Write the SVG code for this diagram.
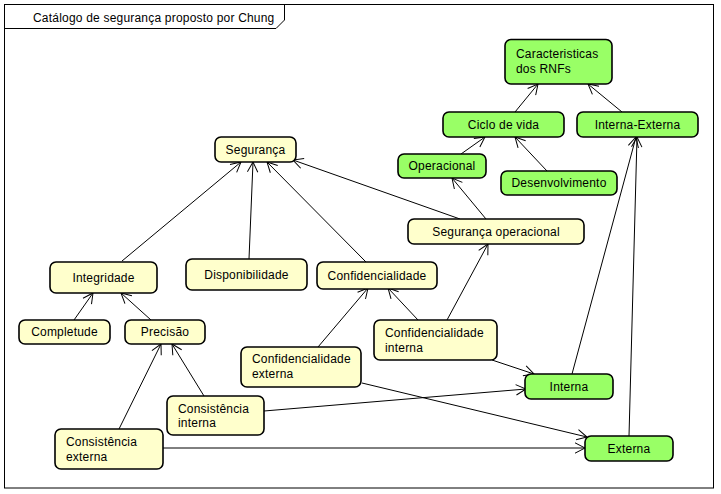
<svg xmlns="http://www.w3.org/2000/svg" width="721" height="494" viewBox="0 0 721 494">
<style>
.y{fill:#FFFFCC;stroke:#000;stroke-width:1.6}
.g{fill:#99FF66;stroke:#000;stroke-width:1.6}
text{font-family:"Liberation Sans",Arial,sans-serif;font-size:12px;letter-spacing:0.2px;fill:#000}
.c{text-anchor:middle}
#edges line,#edges path{stroke:#000;stroke-width:1;fill:none;marker-end:url(#arr)}
</style>
<defs>
<marker id="arr" markerUnits="userSpaceOnUse" viewBox="0 0 12 12" refX="11" refY="6" markerWidth="12" markerHeight="12" orient="auto">
<path d="M1,0.8 L11,6 L1,11.2" fill="none" stroke="#000" stroke-width="1"/>
</marker>
</defs>
<rect x="0" y="0" width="721" height="494" fill="#fff"/>
<g id="frame">
<rect x="4.5" y="4.5" width="709" height="483.5" fill="none" stroke="#000" stroke-width="1"/>
<path d="M4.5,28.5 L276,28.5 L284.5,20 L284.5,4.5" fill="none" stroke="#000" stroke-width="1"/>
<text x="33" y="22">Catálogo de segurança proposto por Chung</text>
</g>
<g id="edges">
<line x1="122" y1="261" x2="241" y2="162"/>
<line x1="249" y1="259" x2="253" y2="162"/>
<line x1="366" y1="262" x2="267" y2="162"/>
<line x1="460" y1="219" x2="293" y2="160"/>
<line x1="486" y1="219" x2="452" y2="178"/>
<line x1="461" y1="154" x2="485" y2="137"/>
<line x1="547" y1="171" x2="515" y2="137"/>
<line x1="515" y1="112" x2="538" y2="84"/>
<line x1="622" y1="112" x2="588" y2="84"/>
<line x1="572" y1="374" x2="636" y2="137"/>
<line x1="629" y1="436" x2="637" y2="137"/>
<line x1="74" y1="320" x2="93" y2="293"/>
<line x1="151" y1="320" x2="121" y2="293"/>
<line x1="119" y1="429" x2="161" y2="344"/>
<line x1="204" y1="396" x2="172" y2="344"/>
<line x1="318" y1="347" x2="368" y2="288"/>
<line x1="418" y1="320" x2="388" y2="288"/>
<line x1="447" y1="320" x2="488" y2="244"/>
<line x1="492" y1="360" x2="534" y2="374"/>
<line x1="362" y1="383" x2="587" y2="437"/>
<line x1="264" y1="411" x2="526" y2="389"/>
<line x1="163" y1="448" x2="585" y2="448"/>
</g>
<g id="n-caract"><rect class="g" x="505" y="39.5" width="107" height="44.5" rx="6"/><text x="516" y="58">Caracteristicas</text><text x="516" y="73">dos RNFs</text></g>
<g id="n-ciclo"><rect class="g" x="443" y="112" width="121" height="25" rx="6"/><text class="c" x="503.5" y="129">Ciclo de vida</text></g>
<g id="n-intext"><rect class="g" x="577" y="112" width="121" height="25" rx="6"/><text class="c" x="637.5" y="129">Interna-Externa</text></g>
<g id="n-oper"><rect class="g" x="398" y="154" width="88" height="24" rx="6"/><text class="c" x="442" y="170">Operacional</text></g>
<g id="n-desenv"><rect class="g" x="501" y="171" width="116" height="24" rx="6"/><text class="c" x="559" y="187">Desenvolvimento</text></g>
<g id="n-seg"><rect class="y" x="215" y="137" width="81" height="25" rx="6"/><text class="c" x="255.5" y="154">Segurança</text></g>
<g id="n-segop"><rect class="y" x="408" y="219" width="176" height="25" rx="6"/><text class="c" x="496" y="236">Segurança operacional</text></g>
<g id="n-integ"><rect class="y" x="50" y="262" width="107" height="31" rx="6"/><text class="c" x="103.5" y="282">Integridade</text></g>
<g id="n-disp"><rect class="y" x="186" y="259" width="121" height="31" rx="6"/><text class="c" x="246.5" y="279">Disponibilidade</text></g>
<g id="n-conf"><rect class="y" x="317" y="262" width="120" height="27" rx="6"/><text class="c" x="377" y="280">Confidencialidade</text></g>
<g id="n-compl"><rect class="y" x="19" y="320" width="91" height="24" rx="6"/><text class="c" x="64.5" y="336">Completude</text></g>
<g id="n-prec"><rect class="y" x="125" y="320" width="80" height="24" rx="6"/><text class="c" x="165" y="336">Precisão</text></g>
<g id="n-confext"><rect class="y" x="241" y="347" width="120" height="40" rx="6"/><text x="252" y="363">Confidencialidade</text><text x="252" y="378">externa</text></g>
<g id="n-confint"><rect class="y" x="374" y="320" width="123" height="40" rx="6"/><text x="385" y="337">Confidencialidade</text><text x="385" y="352">interna</text></g>
<g id="n-consint"><rect class="y" x="167" y="396" width="97" height="39" rx="6"/><text x="178" y="413">Consistência</text><text x="178" y="427">interna</text></g>
<g id="n-consext"><rect class="y" x="55" y="429" width="108" height="40" rx="6"/><text x="66" y="446">Consistência</text><text x="66" y="461">externa</text></g>
<g id="n-interna"><rect class="g" x="525" y="374" width="88" height="25" rx="6"/><text class="c" x="569" y="391">Interna</text></g>
<g id="n-externa"><rect class="g" x="585" y="436" width="88" height="25" rx="6"/><text class="c" x="629" y="453">Externa</text></g>
</svg>
